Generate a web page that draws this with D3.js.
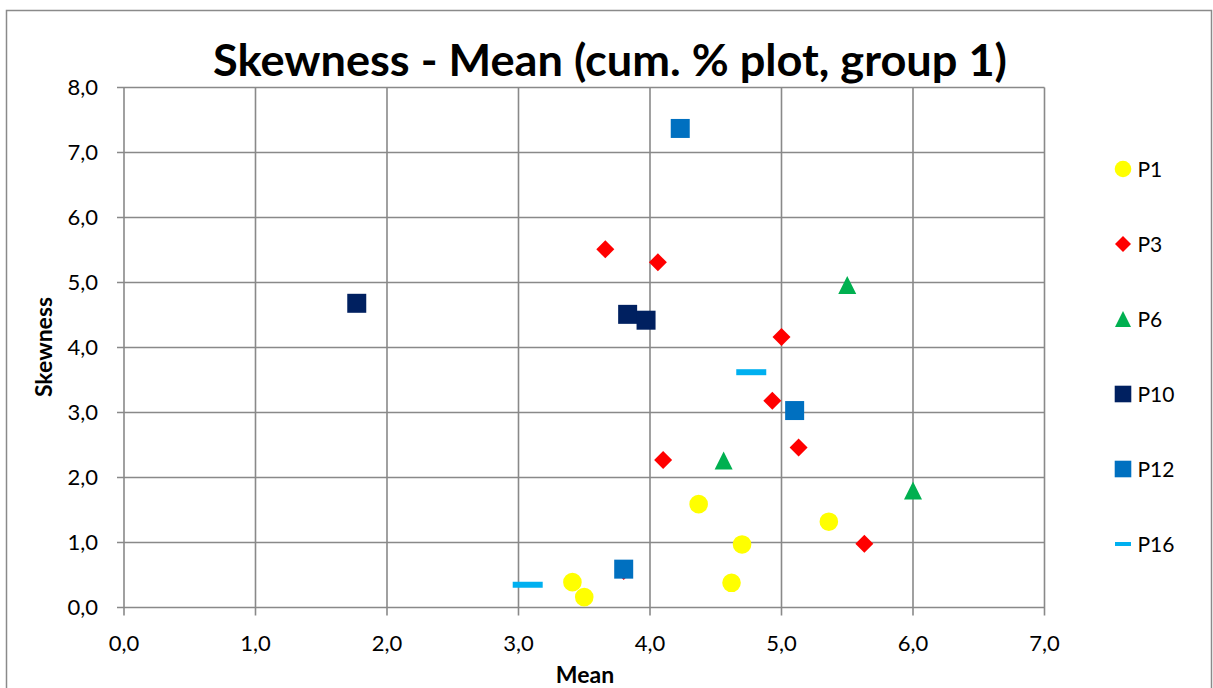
<!DOCTYPE html>
<html><head><meta charset="utf-8">
<script src="https://cdn.jsdelivr.net/npm/d3@7/dist/d3.min.js"></script>
<style>html,body{margin:0;padding:0;background:#fff;}svg{display:block;font-family:Lato,"Open Sans",sans-serif;}</style>
</head><body>
<script>
const xTicks = [0,1,2,3,4,5,6,7];
const yTicks = [0,1,2,3,4,5,6,7,8];
const seriesNames = ["P1","P3","P6","P10","P12","P16"];
const p1X = [4.37, 5.36, 4.70, 4.62, 3.41, 3.50];
const p1Y = [1.59, 1.32, 0.97, 0.38, 0.39, 0.16];
const p3X = [3.66, 4.06, 5.00, 4.93, 5.13, 4.10, 5.63, 3.80];
const p3Y = [5.51, 5.31, 4.16, 3.18, 2.46, 2.27, 0.98, 0.56];
const p6X = [5.50, 4.56, 6.00];
const p6Y = [4.96, 2.26, 1.80];
const p10X = [1.77, 3.83, 3.97];
const p10Y = [4.68, 4.51, 4.42];
const p12X = [4.23, 5.10, 3.80];
const p12Y = [7.37, 3.03, 0.59];
const p16X = [4.77, 3.07];
const p16Y = [3.62, 0.35];

const W = 1213, H = 688;
const svg = d3.select("body").append("svg").attr("width", W).attr("height", H);
svg.append("rect").attr("x", 6.5).attr("y", 10.5).attr("width", 1205).attr("height", 690)
  .attr("fill", "#fff").attr("stroke", "#8a8a8a").attr("stroke-width", 1.5);

const x = d3.scaleLinear().domain([0,7]).range([124, 1044.5]);
const y = d3.scaleLinear().domain([0,8]).range([607.5, 87.5]);
const fmt = d => d.toFixed(1).replace(".", ",");
const gridCol = "#898989";

// gridlines
svg.append("g").selectAll("line").data(yTicks).join("line")
  .attr("x1", x(0) - 7).attr("x2", x(7)).attr("y1", d => y(d)).attr("y2", d => y(d))
  .attr("stroke", gridCol).attr("stroke-width", 1.6);
svg.append("g").selectAll("line").data(xTicks).join("line")
  .attr("y1", y(8)).attr("y2", y(0) + 8).attr("x1", d => x(d)).attr("x2", d => x(d))
  .attr("stroke", gridCol).attr("stroke-width", 1.6);

// tick labels
svg.append("g").selectAll("text").data(yTicks).join("text")
  .attr("x", 98).attr("y", d => y(d)).attr("dy", "0.36em").attr("text-anchor", "end")
  .attr("font-size", 22).attr("fill", "#000").text(fmt);
svg.append("g").selectAll("text").data(xTicks).join("text")
  .attr("x", d => x(d)).attr("y", 651).attr("text-anchor", "middle")
  .attr("font-size", 22).attr("fill", "#000").text(fmt);

// axis titles
svg.append("text").attr("x", 585).attr("y", 683).attr("text-anchor", "middle")
  .attr("font-size", 23).attr("font-weight", "bold").text("Mean");
svg.append("text").attr("transform", "translate(52,347) rotate(-90)").attr("text-anchor", "middle")
  .attr("font-size", 23).attr("font-weight", "bold").text("Skewness");

// title
svg.append("text").attr("x", 213).attr("y", 76).attr("text-anchor", "start")
  .attr("font-size", 43).attr("font-weight", "bold")
  .attr("textLength", 794).attr("lengthAdjust", "spacingAndGlyphs")
  .text("Skewness - Mean (cum. % plot, group 1)");

// marker shapes
function shapePath(type, s) {
  const p = d3.path();
  if (type === "circle") { p.arc(0,0,s/2,0,2*Math.PI); }
  else if (type === "diamond") { const h=s/2; p.moveTo(0,-h); p.lineTo(h,0); p.lineTo(0,h); p.lineTo(-h,0); p.closePath(); }
  else if (type === "triangle") { const h=s/2; p.moveTo(0,-h); p.lineTo(h,h); p.lineTo(-h,h); p.closePath(); }
  else if (type === "square") { const h=s/2; p.rect(-h,-h,s,s); }
  else if (type === "dash") { p.rect(-s/2,-3,s,6); }
  return p.toString();
}

const series = [
  {name:"P1", xs:p1X, ys:p1Y, type:"circle", size:18.6, lsize:16.6, color:"#FFFF00"},
  {name:"P3", xs:p3X, ys:p3Y, type:"diamond", size:18, lsize:16, color:"#FF0000"},
  {name:"P6", xs:p6X, ys:p6Y, type:"triangle", size:18, lsize:16, color:"#00B050"},
  {name:"P10", xs:p10X, ys:p10Y, type:"square", size:19, lsize:16.6, color:"#002060"},
  {name:"P12", xs:p12X, ys:p12Y, type:"square", size:19, lsize:16.6, color:"#0070C0"},
  {name:"P16", xs:p16X, ys:p16Y, type:"dash", size:30, lsize:16, color:"#00B0F0"}
];

series.forEach(s => {
  const pts = s.xs.map((v,i) => [v, s.ys[i]]);
  svg.append("g").selectAll("path").data(pts).join("path")
    .attr("d", shapePath(s.type, s.size))
    .attr("transform", d => `translate(${x(d[0])},${y(d[1])})`)
    .attr("fill", s.color);
});

// legend
const ly = d3.scalePoint().domain(seriesNames).range([169, 544]);
const leg = svg.append("g");
series.forEach(s => {
  const g = leg.append("g").attr("transform", `translate(1123,${ly(s.name)})`);
  g.append("path").attr("d", s.type === "dash" ? "M-8,-2h16v4h-16z" : shapePath(s.type, s.lsize)).attr("fill", s.color);
  g.append("text").attr("x", 14.5).attr("dy", "0.36em").attr("font-size", 21).text(s.name);
});
</script>
</body></html>
